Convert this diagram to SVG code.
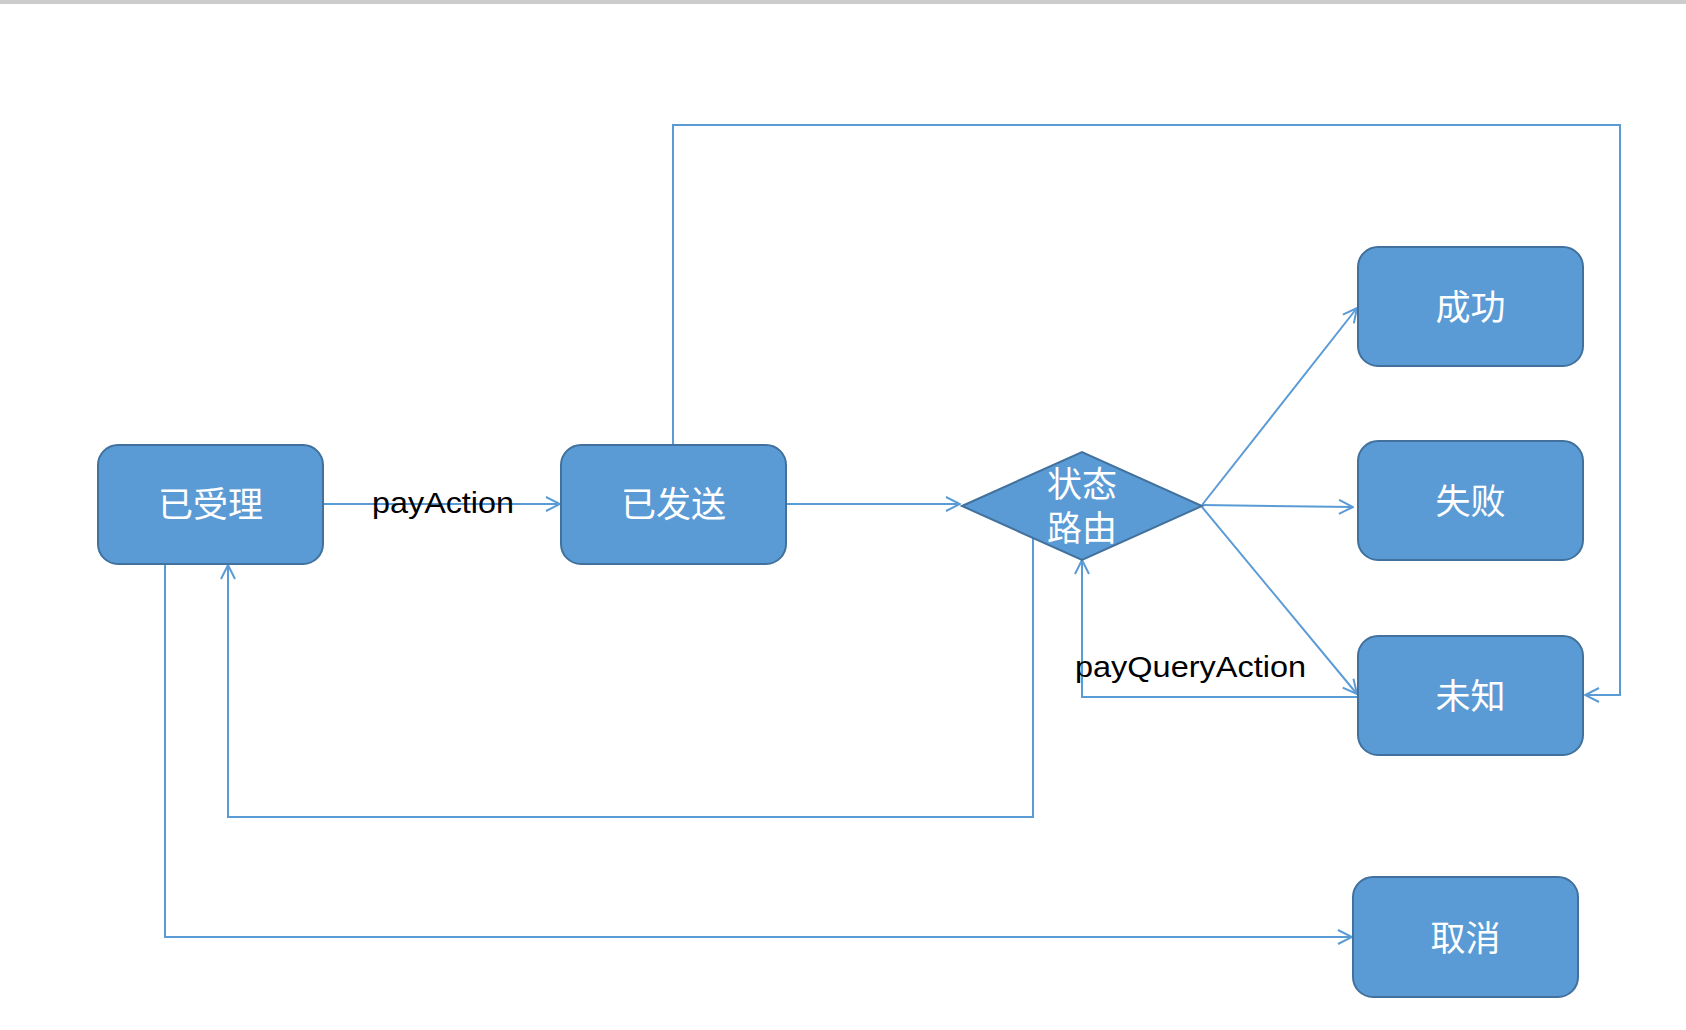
<svg xmlns="http://www.w3.org/2000/svg" width="1686" height="1030" viewBox="0 0 1686 1030">
<style>
.node{fill:#5B9BD5;stroke:#41719C;stroke-width:2}
.lbl{font-family:"Noto Sans CJK SC","Noto Sans",sans-serif;font-size:35px;fill:#FFFFFF;text-anchor:middle}
.edge{fill:none;stroke:#5B9BD5;stroke-width:2}
.etxt{font-family:"Liberation Sans",Arial,sans-serif;font-size:30px;fill:#000000}
</style>
<defs>
<marker id="arr" markerUnits="userSpaceOnUse" markerWidth="16" markerHeight="16" refX="14" refY="7" orient="auto" viewBox="-1 -1 16 16">
<path d="M0,0 L14,7 L0,14" fill="none" stroke="#5B9BD5" stroke-width="2"/>
</marker>
</defs>
<rect x="0" y="0" width="1686" height="1030" fill="#FFFFFF"/>
<rect x="0" y="0" width="1686" height="4" fill="#CCCCCC"/>
<g id="connectors">
<path class="edge" d="M323,504 L560,504" marker-end="url(#arr)"/>
<path class="edge" d="M786,504 L960,504" marker-end="url(#arr)"/>
<path class="edge" d="M673,444 L673,125 L1620,125 L1620,695 L1585,695" marker-end="url(#arr)"/>
<path class="edge" d="M1202,505 L1357,308" marker-end="url(#arr)"/>
<path class="edge" d="M1202,505 L1353,507" marker-end="url(#arr)"/>
<path class="edge" d="M1202,507 L1357,694" marker-end="url(#arr)"/>
<path class="edge" d="M1357,697 L1082,697 L1082,560" marker-end="url(#arr)"/>
<path class="edge" d="M1033,538 L1033,817 L228,817 L228,565" marker-end="url(#arr)"/>
<path class="edge" d="M165,564 L165,937 L1352,937" marker-end="url(#arr)"/>
<text class="etxt" x="372" y="513" textLength="142" lengthAdjust="spacingAndGlyphs">payAction</text>
<text class="etxt" x="1075" y="677" textLength="231" lengthAdjust="spacingAndGlyphs">payQueryAction</text>
</g>
<g id="n_accepted">
<rect class="node" x="98" y="445" width="225" height="119" rx="20"/>
<text class="lbl" x="210.5" y="517">已受理</text>
</g>
<g id="n_sent">
<rect class="node" x="561" y="445" width="225" height="119" rx="20"/>
<text class="lbl" x="673.5" y="517">已发送</text>
</g>
<g id="n_route">
<polygon class="node" points="962,506 1082,452 1202,506 1082,560"/>
<text class="lbl" x="1082" y="497">状态</text>
<text class="lbl" x="1082" y="541">路由</text>
</g>
<g id="n_success">
<rect class="node" x="1358" y="247" width="225" height="119" rx="20"/>
<text class="lbl" x="1470.5" y="320">成功</text>
</g>
<g id="n_fail">
<rect class="node" x="1358" y="441" width="225" height="119" rx="20"/>
<text class="lbl" x="1470.5" y="514">失败</text>
</g>
<g id="n_unknown">
<rect class="node" x="1358" y="636" width="225" height="119" rx="20"/>
<text class="lbl" x="1470.5" y="709">未知</text>
</g>
<g id="n_cancel">
<rect class="node" x="1353" y="877" width="225" height="120" rx="20"/>
<text class="lbl" x="1465.5" y="951">取消</text>
</g>
</svg>
